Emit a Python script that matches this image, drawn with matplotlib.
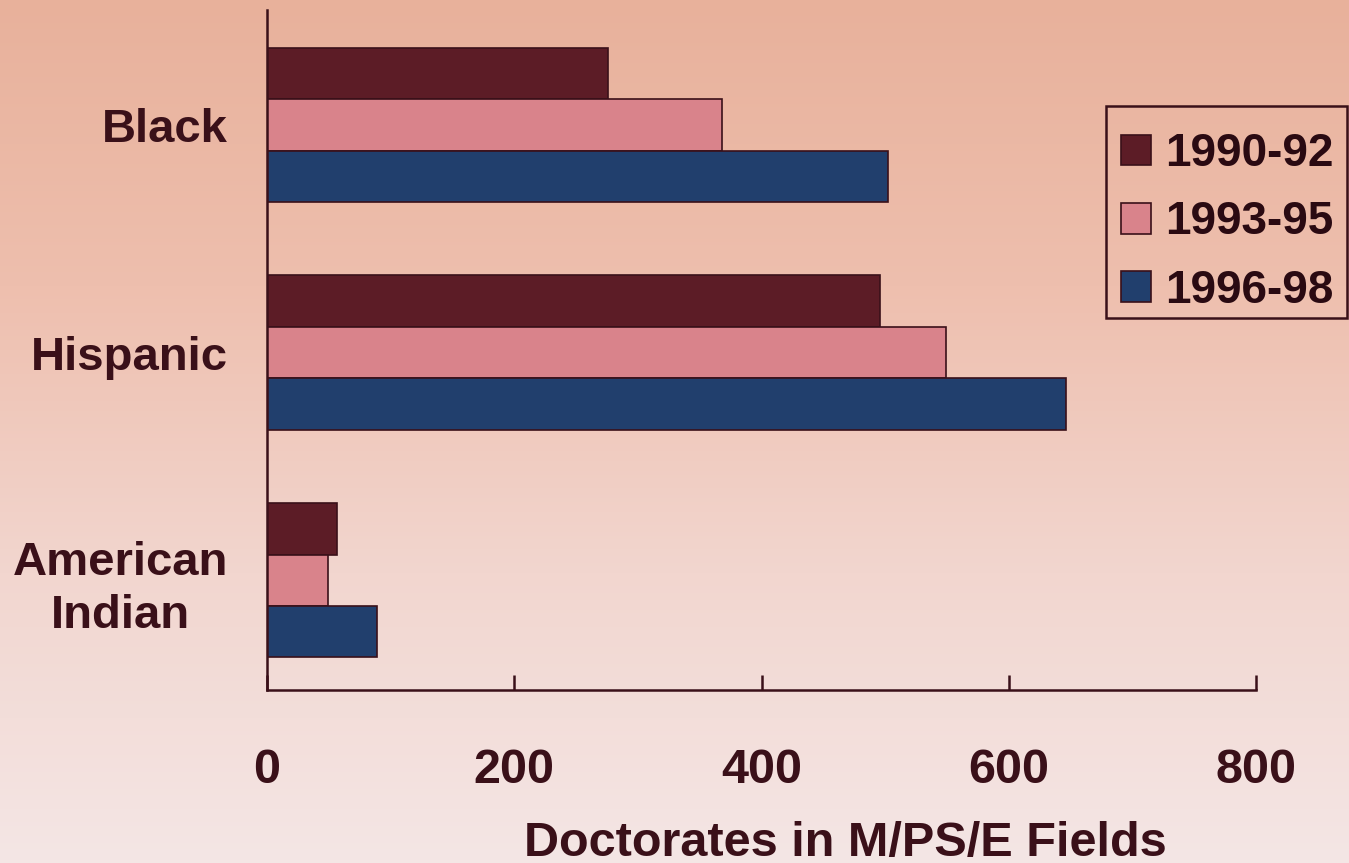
import numpy as np
import matplotlib
matplotlib.use('Agg')
import matplotlib.pyplot as plt
from matplotlib.colors import LinearSegmentedColormap
from matplotlib.patches import Rectangle

# data
groups = ['Black', 'Hispanic', 'American\nIndian']
periods = ['1990-92', '1993-95', '1996-98']
v1990 = [276, 496, 57]
v1993 = [368, 549, 49]
v1996 = [502, 646, 89]

colors = ['#5c1c26', '#d9838b', '#213f6d']
ink = '#3a1019'

plt.rcParams['font.family'] = ['Liberation Sans', 'DejaVu Sans']
plt.rcParams['font.weight'] = 'bold'

fig = plt.figure(figsize=(13.49, 8.63), dpi=100)

# background gradient
bg = fig.add_axes([0, 0, 1, 1], zorder=-10)
grad = np.linspace(0, 1, 256).reshape(-1, 1)
cmap = LinearSegmentedColormap.from_list('bg', ['#e8b19b', '#eebfae', '#f2d6cf', '#f4e6e5'])
bg.imshow(grad, aspect='auto', cmap=cmap, extent=[0, 1, 0, 1], origin='upper')
bg.axis('off')

ax = fig.add_axes([267 / 1349, 1 - 690 / 863, (1256 - 267) / 1349, (690 - 10) / 863])
ax.patch.set_alpha(0)

y = np.arange(len(groups))
h = 0.226
for i, (vals, lab) in enumerate(zip([v1990, v1993, v1996], periods)):
    ax.barh(y + (i - 1) * h, vals, height=h, color=colors[i], edgecolor=ink,
            linewidth=1.2, label=lab)

ax.set_xlim(0, 800)
ax.set_ylim(2.482, -0.504)
ax.set_xticks([0, 200, 400, 600, 800])
ax.set_yticks(y)
ax.set_yticklabels(groups, multialignment='center', linespacing=1.25)
ax.tick_params(axis='x', direction='in', length=11, width=1.8, color=ink,
               labelsize=35, labelcolor=ink, pad=42)
ax.tick_params(axis='y', length=0, labelsize=34, labelcolor=ink, pad=28)
for t in ax.get_xticklabels() + ax.get_yticklabels():
    t.set_fontweight('bold')

for s in ['top', 'right']:
    ax.spines[s].set_visible(False)
for s in ['left', 'bottom']:
    ax.spines[s].set_color(ink)
    ax.spines[s].set_linewidth(1.8)

fig.text(845 / 1349, 1 - 843 / 863, 'Doctorates in M/PS/E Fields', ha='center',
         va='center', fontsize=35, fontweight='bold', color=ink)

# legend without its own frame, box drawn separately
leg = fig.legend(loc='upper left', bbox_to_anchor=(1106 / 1349, 1 - 117 / 863),
                 prop={'size': 33, 'weight': 'bold'}, frameon=False,
                 handlelength=0.66, handleheight=0.66, handletextpad=0.3,
                 labelspacing=0.53, borderpad=0.33, borderaxespad=0)
for t in leg.get_texts():
    t.set_color('#2a0a12')
fig.patches.append(Rectangle((1106 / 1349, 1 - 318 / 863), 241 / 1349, 212 / 863,
                             transform=fig.transFigure, fill=False,
                             edgecolor=ink, linewidth=1.8))

fig.savefig('out.png', dpi=100)
